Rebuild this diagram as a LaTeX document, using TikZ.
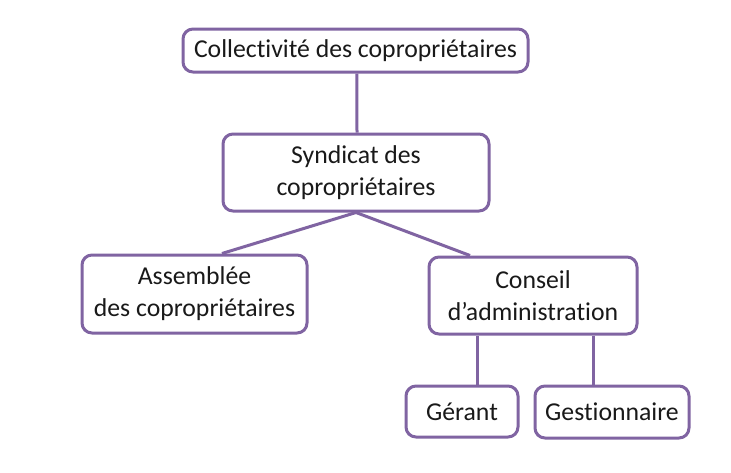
\documentclass[tikz,border=0pt]{standalone}
\usepackage{fontspec}
\setmainfont{Carlito}[Ligatures=NoCommon]
\usepackage{tikz}
\usetikzlibrary{positioning,calc}
\definecolor{orgpurple}{HTML}{8064A2}
\tikzset{
  unit/.style={box, rounded corners=7.5pt, align=center},
  box/.style={draw=orgpurple, fill=white, line width=2.25pt, inner sep=2pt,
              font=\fontsize{19.3}{24}\selectfont, text=black!90},
  link/.style={draw=orgpurple, line width=2.25pt},
}
\begin{document}
\begin{tikzpicture}[x=0.75pt, y=-0.75pt]
  \useasboundingbox[fill=white] (0,0) rectangle (731,472);

  \node[unit, minimum width=258.75pt, minimum height=32.25pt] (coll) at (355.5,50.5)
    {Collectivité des copropriétaires};
  \node[unit, minimum width=199.5pt, minimum height=57.75pt] (synd) at (356,172.5)
    {Syndicat des\\copropriétaires};
  \node[unit, minimum width=168.75pt, minimum height=58.5pt] (ass) at (194.5,294)
    {Assemblée\\des copropriétaires};
  \node[unit, minimum width=156pt, minimum height=57.75pt] (cons) at (533,295.5)
    {Conseil\\d’administration};
  \node[unit, minimum width=84pt, minimum height=38.25pt] (gerant) at (462,411.5)
    {Gérant};
  \node[unit, minimum width=115.5pt, minimum height=39pt] (gest) at (612,412)
    {Gestionnaire};

  \draw[link] ([xshift=1pt]coll.south) -- ([xshift=0.75pt]synd.north);
  \draw[link] (synd.south) -- ([xshift=20.6pt]ass.north);
  \draw[link] (synd.south) -- ([xshift=-47.25pt]cons.north);
  \draw[link] ([xshift=-42pt]cons.south) -- ([xshift=11.25pt]gerant.north);
  \draw[link] ([xshift=45pt]cons.south) -- ([xshift=-14.25pt]gest.north);
\end{tikzpicture}
\end{document}
